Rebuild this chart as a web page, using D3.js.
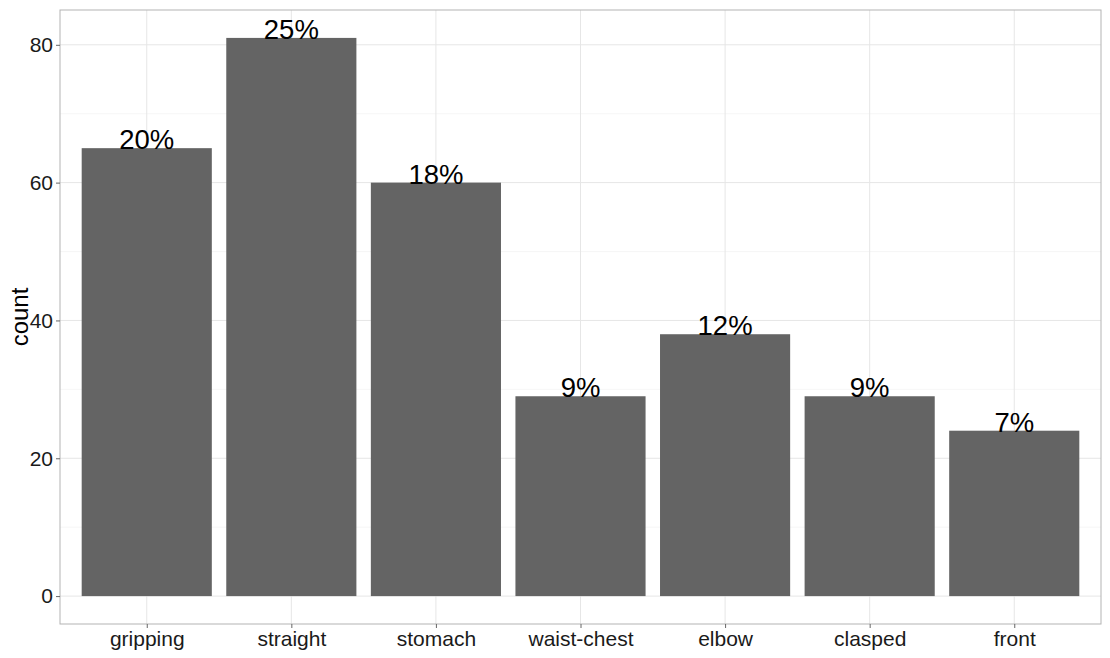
<!DOCTYPE html>
<html><head><meta charset="utf-8">
<script src="https://cdn.jsdelivr.net/npm/d3@7"></script>
<style>body{margin:0;background:#fff}svg{display:block;font-family:"Liberation Sans",Arial,sans-serif}</style>
</head><body><svg id="c" width="1110" height="658"></svg>
<script>
const categories = ["gripping","straight","stomach","waist-chest","elbow","clasped","front"];
const counts = [65,81,60,29,38,29,24];
const pctLabels = ["20%","25%","18%","9%","12%","9%","7%"];
const yTicks = [0,20,40,60,80];
const yMinor = [10,30,50,70];

const svg = d3.select("#c");
const L = 60, R = 1101, T = 10, B = 624;
const x = d3.scalePoint().domain(categories).range([L, R]).padding(0.6);
const step = x.step();
const bw = step * 0.9;
const ymax = d3.max(counts);
const y = d3.scaleLinear().domain([-ymax*0.05, ymax*1.05]).range([B, T]);

const g = svg.append("g");
// minor grid
g.selectAll(".mn").data(yMinor).join("line")
  .attr("x1", L).attr("x2", R).attr("y1", d=>y(d)).attr("y2", d=>y(d))
  .attr("stroke", "#f2f2f2").attr("stroke-width", 0.7);
g.selectAll(".mj").data(yTicks).join("line").attr("class","mj")
  .attr("x1", L).attr("x2", R).attr("y1", d=>y(d)).attr("y2", d=>y(d))
  .attr("stroke", "#e6e6e6").attr("stroke-width", 1);
g.selectAll(".vx").data(categories).join("line").attr("class","vx")
  .attr("x1", d=>x(d)).attr("x2", d=>x(d)).attr("y1", T).attr("y2", B)
  .attr("stroke", "#e6e6e6").attr("stroke-width", 1);

// bars
g.selectAll(".bar").data(categories).join("rect").attr("class","bar")
  .attr("x", d=>x(d)-bw/2).attr("width", bw)
  .attr("y", (d,i)=>y(counts[i])).attr("height", (d,i)=>y(0)-y(counts[i]))
  .attr("fill", "#646464");

// labels
g.selectAll(".lab").data(categories).join("text").attr("class","lab")
  .attr("x", d=>x(d)).attr("y", (d,i)=>y(counts[i])+1)
  .attr("text-anchor","middle").attr("font-size", 27.5).attr("fill","#000")
  .text((d,i)=>pctLabels[i]);

// panel border
svg.append("rect").attr("x", L).attr("y", T).attr("width", R-L).attr("height", B-T)
  .attr("fill","none").attr("stroke","#b3b3b3").attr("stroke-width",1);

// axes
const ya = svg.append("g").attr("transform", `translate(${L},0)`)
  .call(d3.axisLeft(y).tickValues(yTicks).tickSize(4).tickPadding(3));
ya.select(".domain").remove();
ya.selectAll(".tick line").attr("stroke","#666");
ya.selectAll(".tick text").attr("font-size", 21).attr("fill","#1a1a1a").attr("font-family","Liberation Sans, Arial, sans-serif");

const xa = svg.append("g").attr("transform", `translate(0,${B})`)
  .call(d3.axisBottom(x).tickSize(4).tickPadding(3));
xa.select(".domain").remove();
xa.selectAll(".tick line").attr("stroke","#666");
xa.selectAll(".tick text").attr("font-size", 21).attr("fill","#1a1a1a").attr("font-family","Liberation Sans, Arial, sans-serif");

svg.append("text").attr("transform", `translate(28,${(T+B)/2}) rotate(-90)`)
  .attr("text-anchor","middle").attr("font-size", 24).attr("fill","#000").text("count");
</script></body></html>
